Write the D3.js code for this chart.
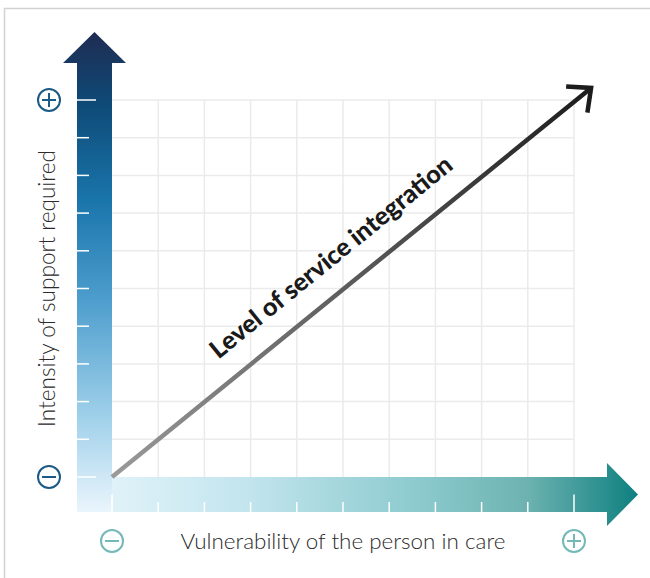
<!DOCTYPE html>
<html>
<head>
<meta charset="utf-8">
<script src="https://cdn.jsdelivr.net/npm/d3@7"></script>
<style>
  body { margin: 0; background: #fff; }
  svg { display: block; }
</style>
</head>
<body>
<svg id="chart" width="650" height="578"></svg>
<script>
// grid divisions on each axis (0 = low, 10 = high)
const xTicks = [0, 1, 2, 3, 4, 5, 6, 7, 8, 9, 10];
const yTicks = [0, 1, 2, 3, 4, 5, 6, 7, 8, 9, 10];
// level of service integration, from origin to beyond the top corner
const integration = [[0, 0], [10.37, 10.32]];
const xLabel = 'Vulnerability of the person in care';
const yLabel = 'Intensity of support required';
const lineLabel = 'Level of service integration';
const endSymbols = ['−', '+'];

const svg = d3.select('#chart');
const x = d3.scaleLinear().domain([0, 10]).range([112, 574]);
const y = d3.scaleLinear().domain([0, 10]).range([477, 100]);

const defs = svg.append('defs');

const vGrad = defs.append('linearGradient')
  .attr('id', 'vGrad')
  .attr('x1', 0).attr('y1', 1).attr('x2', 0).attr('y2', 0);
[[0, '#eaf5fc'], [0.2, '#9fd0ea'], [0.45, '#4b9ccc'], [0.65, '#1a75ab'], [0.85, '#0e4a77'], [1, '#1f2c52']]
  .forEach(s => vGrad.append('stop').attr('offset', s[0]).attr('stop-color', s[1]));

const hGrad = defs.append('linearGradient')
  .attr('id', 'hGrad')
  .attr('x1', 0).attr('y1', 0).attr('x2', 1).attr('y2', 0);
[[0, '#e8f5fb'], [0.3, '#c3e5ee'], [0.6, '#8dcbcf'], [0.8, '#6eb3b1'], [1, '#0e8080']]
  .forEach(s => hGrad.append('stop').attr('offset', s[0]).attr('stop-color', s[1]));

const lGrad = defs.append('linearGradient')
  .attr('id', 'lGrad')
  .attr('gradientUnits', 'userSpaceOnUse')
  .attr('x1', x(integration[0][0])).attr('y1', y(integration[0][1]))
  .attr('x2', x(integration[1][0])).attr('y2', y(integration[1][1]));
lGrad.append('stop').attr('offset', 0).attr('stop-color', '#9a9a9a');
lGrad.append('stop').attr('offset', 1).attr('stop-color', '#1c1c1c');

// outer frame
svg.append('rect')
  .attr('x', 4.5).attr('y', 8.5)
  .attr('width', 700).attr('height', 600)
  .attr('fill', 'none')
  .attr('stroke', '#d2d2d2')
  .attr('stroke-width', 1.5);

// grid
const grid = svg.append('g').attr('stroke', '#ebebeb').attr('stroke-width', 1.5);
grid.selectAll('.gx')
  .data(xTicks.slice(1))
  .join('line')
  .attr('x1', d => x(d)).attr('x2', d => x(d))
  .attr('y1', y(10)).attr('y2', y(0));
grid.selectAll('.gy')
  .data(yTicks.slice(1))
  .join('line')
  .attr('x1', x(0)).attr('x2', x(10))
  .attr('y1', d => y(d)).attr('y2', d => y(d));

// axis arrows
const shaft = 35;
const x0 = x(0), y0 = y(0);
const hTip = 638, vTip = 32;

svg.append('path')
  .attr('fill', 'url(#hGrad)')
  .attr('d', `M${x0 - shaft},${y0} H607 V463 L${hTip},${y0 + shaft / 2} L607,526 V${y0 + shaft} H${x0 - shaft} Z`);

svg.append('path')
  .attr('fill', 'url(#vGrad)')
  .attr('d', `M${x0 - shaft},${y0 + shaft} V63 H63 L${x0 - shaft / 2},${vTip} L126,63 H${x0} V${y0 + shaft} Z`);

// tick marks on the arrows
svg.append('g').attr('stroke', '#fff').attr('stroke-width', 1.5)
  .selectAll('line')
  .data(yTicks)
  .join('line')
  .attr('x1', x0 - shaft)
  .attr('x2', d => (d === 0 || d === 10) ? x0 - 16 : x0 - 23)
  .attr('y1', d => y(d)).attr('y2', d => y(d));

svg.append('g').attr('stroke', '#fff').attr('stroke-width', 1.5)
  .selectAll('line')
  .data(xTicks)
  .join('line')
  .attr('x1', d => x(d)).attr('x2', d => x(d))
  .attr('y1', y0 + shaft)
  .attr('y2', d => (d === 0 || d === 10) ? y0 + shaft / 2 : y0 + shaft - 10);

// diagonal integration arrow
const p0 = [x(integration[0][0]), y(integration[0][1])];
const p1 = [x(integration[1][0]), y(integration[1][1])];
const ang = Math.atan2(p1[1] - p0[1], p1[0] - p0[0]);
const back = ang + Math.PI;
const arm = 25, spread = 0.74;

svg.append('path')
  .attr('d', d3.line()(integration.map(d => [x(d[0]), y(d[1])])))
  .attr('stroke', 'url(#lGrad)')
  .attr('stroke-width', 4.5)
  .attr('fill', 'none');

svg.append('path')
  .attr('d', `M${p1[0] + arm * Math.cos(back - spread)},${p1[1] + arm * Math.sin(back - spread)} L${p1[0]},${p1[1]} L${p1[0] + arm * Math.cos(back + spread)},${p1[1] + arm * Math.sin(back + spread)}`)
  .attr('stroke', '#1c1c1c')
  .attr('stroke-width', 4.5)
  .attr('stroke-linejoin', 'miter')
  .attr('fill', 'none');

// label along the diagonal
const mid = [(p0[0] + p1[0]) / 2, (p0[1] + p1[1]) / 2];
const off = 24;
const tx = mid[0] + off * Math.sin(ang);
const ty = mid[1] - off * Math.cos(ang);
const diagText = svg.append('text')
  .attr('transform', `translate(${tx},${ty}) rotate(${ang * 180 / Math.PI})`)
  .attr('text-anchor', 'middle')
  .style('font-family', 'Lato, sans-serif')
  .style('font-weight', 900)
  .style('font-size', '21px')
  .attr('fill', '#1a1a1a')
  .text(lineLabel);
const fit = (sel, target, size) => {
  const w = sel.node().getComputedTextLength();
  sel.style('font-size', (size * target / w) + 'px');
};
fit(diagText, 304, 21);

// axis titles
const yTitle = svg.append('text')
  .attr('transform', `translate(55,${(y(0) + y(10)) / 2}) rotate(-90)`)
  .attr('text-anchor', 'middle')
  .style('font-family', 'Lato, sans-serif')
  .style('font-weight', 300)
  .style('font-size', '17px')
  .attr('fill', '#2b2b2b')
  .text(yLabel);
fit(yTitle, 277, 17);

const xTitle = svg.append('text')
  .attr('x', (x(0) + x(10)) / 2)
  .attr('y', 549)
  .attr('text-anchor', 'middle')
  .style('font-family', 'Lato, sans-serif')
  .style('font-weight', 300)
  .style('font-size', '18px')
  .attr('fill', '#2b2b2b')
  .text(xLabel);
fit(xTitle, 325, 18);

// plus / minus markers
const marker = (cx, cy, sym, color) => {
  const g = svg.append('g').attr('transform', `translate(${cx},${cy})`)
    .attr('stroke', color).attr('stroke-width', 2).attr('fill', 'none');
  g.append('circle').attr('r', 11);
  g.append('line').attr('x1', -7).attr('x2', 7);
  if (sym === '+') g.append('line').attr('y1', -7).attr('y2', 7);
};
marker(49, y(0), endSymbols[0], '#1b5a86');
marker(49, y(10), endSymbols[1], '#1b5a86');
marker(x(0), 541, endSymbols[0], '#72b9b8');
marker(x(10), 541, endSymbols[1], '#72b9b8');
</script>
</body>
</html>
